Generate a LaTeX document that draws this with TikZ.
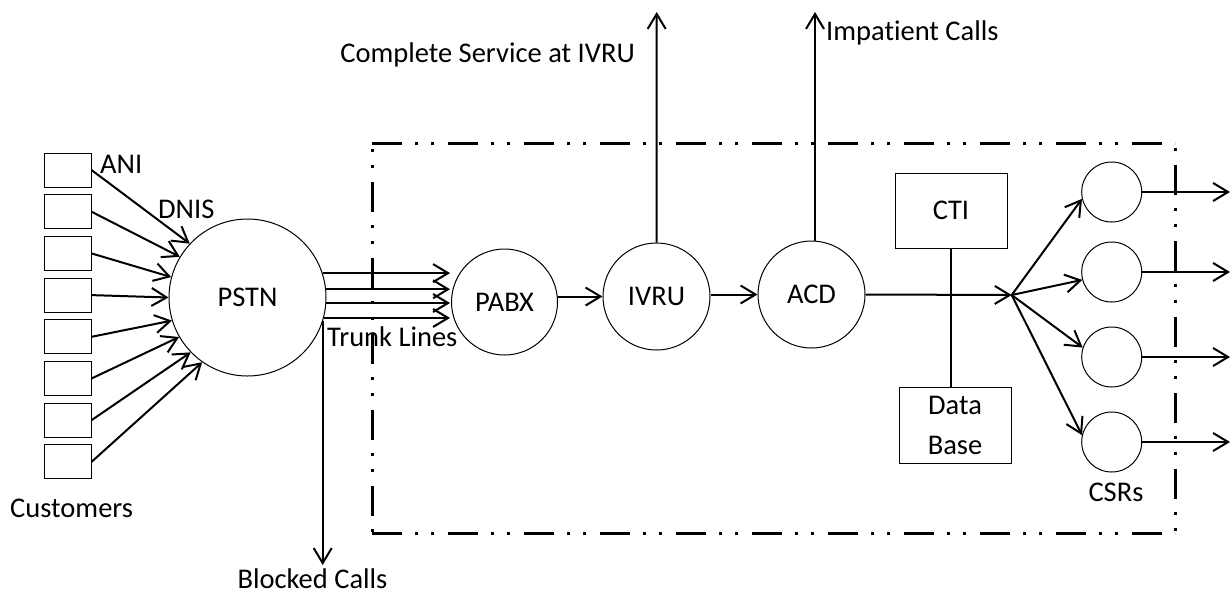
\documentclass[tikz,border=0pt]{standalone}
\usepackage{fontspec}
\setmainfont{Carlito}[Ligatures=NoCommon]
\usetikzlibrary{arrows.meta}
\begin{document}
\begin{tikzpicture}[x=1pt,y=-1pt,
  every node/.style={font=\fontsize{28.5}{36}\selectfont},
  unit/.style={draw, circle, line width=1pt, minimum size=#1, inner sep=0pt},
  cust/.style={draw, line width=1pt, minimum width=47pt, minimum height=34pt, inner sep=0pt},
  infobox/.style={draw, line width=1pt, minimum width=112pt, minimum height=75pt, inner sep=0pt},
  arr/.style={line width=2pt, -{Straight Barb[length=15pt,width=18pt]}},
  lbl/.style={inner sep=0pt},
  border/.style={line width=3pt, dash pattern=on 30pt off 13pt on 3pt off 13pt on 3pt off 14pt}]
\useasboundingbox (0,0) rectangle (1231,595);

% system boundary, one edge at a time
\coordinate (bl) at (372,143);
\coordinate (br) at (1175,143);
\coordinate (bbl) at (372,533);
\coordinate (bbr) at (1175,533);
\draw[border] (bl) -- (br);
\draw[border, dash phase=54pt] (br) -- (bbr);
\draw[border] (bbl) -- (bbr);
\draw[border, dash phase=37pt] (bl) -- (bbl);

% customers
\foreach \i in {1,...,8}
  \node[cust] (c\i) at (67.5,{170+41.7*(\i-1)}) {};

% network and call centre units
\node[unit=157pt] (pstn) at (247.5,297.5) {PSTN};
\node[unit=106pt] (pabx) at (504.5,302) {PABX};
\node[unit=107pt] (ivru) at (656.5,296.5) {IVRU};
\node[unit=107pt] (acd)  at (811.5,294.5) {ACD};
\node[infobox] (cti) at (951,210.5) {CTI};
\node[infobox, minimum height=76pt, align=center, font=\fontsize{28.5}{40}\selectfont] (db) at (955,425) {Data\\Base};

% agents
\node[unit=60pt] (csr1) at (1111.7,192) {};
\node[unit=60pt] (csr2) at (1111.7,272) {};
\node[unit=60pt] (csr3) at (1111.7,357) {};
\node[unit=60pt] (csr4) at (1111.7,442) {};

% free ends
\coordinate (tx)  at (450,0);
\coordinate (bt)  at (322.7,565);
\coordinate (ct)  at (656.7,12);
\coordinate (it)  at (815,12);
\coordinate (fan) at (1011.7,295);
\coordinate (ox)  at (1230,0);

% customer calls into the PSTN
\foreach \i/\a in {1/137,2/149,3/165,4/180,5/197,6/210.5,7/224,8/235}
  \draw[arr] (c\i.east) -- (pstn.\a);

% trunk lines
\foreach \a in {18.2,6.9,-4,-15.9}
  \draw[arr] (pstn.\a) -- (pstn.\a -| tx);

% blocked calls
\draw[arr] (bt |- pstn.-17) -- (bt);

% flow through the call centre
\draw[arr] (ivru.west -| pabx.east) -- (ivru.west);
\draw[arr] (acd.west -| ivru.east) -- (acd.west);
\draw[arr] (ivru.north) -- (ct);
\draw[arr] (it |- acd.north) -- (it);
\draw[arr] (acd.east) -- (fan);
\draw[line width=1.3pt] (cti.south) -- (cti.south |- db.north);

% routing to agents
\draw[arr] (fan) -- (csr1.193.5);
\draw[arr] (fan) -- (csr2.195);
\draw[arr] (fan) -- (csr3.162);
\draw[arr] (fan) -- (csr4.167);
\foreach \i in {1,...,4}
  \draw[arr] (csr\i.east) -- (csr\i.east -| ox);

% labels
\node[lbl, anchor=base west] (ani) at (100,173) {ANI};
\node[lbl, anchor=base west] (dnis) at (158,218) {DNIS};
\node[lbl, anchor=base west] (custl) at (10,517) {Customers};
\node[lbl, anchor=base west] (trunk) at (327,346) {Trunk Lines};
\node[lbl, anchor=base] (blk) at (312.5,588) {Blocked Calls};
\node[lbl, anchor=base east] (cmp) at (635,62) {Complete Service at IVRU};
\node[lbl, anchor=base west] (imp) at (826,40) {Impatient Calls};
\node[lbl, anchor=base] (csrl) at (1116,501) {CSRs};
\end{tikzpicture}
\end{document}
